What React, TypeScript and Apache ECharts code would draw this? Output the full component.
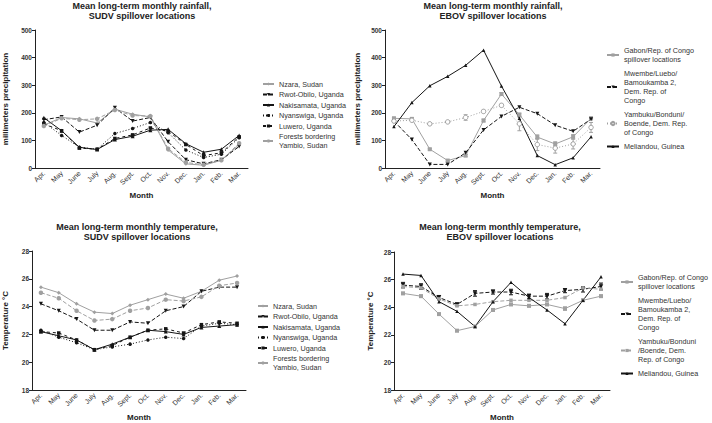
import React, { useEffect, useRef } from 'react';
import * as echarts from 'echarts';

const months = ['Apr.', 'May', 'June', 'July', 'Aug.', 'Sept.', 'Oct.', 'Nov.', 'Dec.', 'Jan.', 'Feb.', 'Mar.'];

// SUDV rainfall (mm)
const nzaraRain = [155, 183, 178, 163, 213, 195, 185, 65, 15, 10, 28, 85];
const rwotRain = [175, 185, 130, 155, 218, 170, 183, 95, 30, 15, 30, 78];
const nakisamataRain = [182, 135, 75, 67, 103, 115, 137, 140, 88, 57, 68, 118];
const nyanswigaRain = [165, 118, 75, 68, 125, 143, 165, 128, 65, 38, 50, 110];
const luweroRain = [160, 135, 72, 68, 107, 120, 145, 133, 85, 45, 55, 113];
const yambioRain = [152, 180, 175, 178, 210, 190, 188, 70, 20, 12, 28, 90];

// EBOV rainfall (mm)
const gabonRain = [180, 178, 68, 27, 45, 172, 268, 193, 112, 87, 113, 180];
const gabonRainErr = [4, 4, 3, 3, 4, 5, 5, 6, 8, 8, 8, 5];
const mwembeRain = [170, 103, 13, 13, 55, 138, 187, 220, 197, 155, 133, 177];
const yambukuRain = [170, 173, 160, 167, 183, 205, 227, 160, 85, 72, 87, 147];
const yambukuRainErr = [4, 4, 4, 4, 10, 5, 5, 25, 22, 18, 18, 18];
const meliandouRain = [150, 237, 298, 332, 372, 427, 297, 180, 45, 12, 37, 113];

// SUDV temperature (°C)
const nzaraTemp = [25.4, 25.0, 24.2, 23.6, 23.5, 24.1, 24.5, 24.9, 24.6, 25.1, 25.9, 26.2];
const rwotTemp = [24.2, 23.7, 23.1, 22.3, 22.3, 22.9, 22.8, 23.7, 24.0, 25.1, 25.4, 25.4];
const nakisamataTemp = [22.2, 21.9, 21.6, 20.9, 21.3, 21.8, 22.3, 22.2, 22.0, 22.5, 22.6, 22.7];
const nyanswigaTemp = [22.3, 21.8, 21.4, 20.9, 21.1, 21.3, 21.6, 21.8, 21.7, 22.6, 22.8, 22.7];
const luweroTemp = [22.2, 22.1, 21.6, 20.9, 21.2, 21.8, 22.3, 22.4, 22.1, 22.7, 22.9, 22.8];
const yambioTemp = [25.0, 24.6, 23.7, 23.0, 23.1, 23.7, 23.9, 24.5, 24.4, 24.7, 25.5, 25.7];

// EBOV temperature (°C)
const gabonTemp = [25.0, 24.8, 23.5, 22.3, 22.6, 23.8, 24.2, 24.1, 24.2, 23.9, 24.5, 24.8];
const gabonTempErr = [0.08, 0.08, 0.06, 0.08, 0.06, 0.08, 0.08, 0.08, 0.08, 0.12, 0.08, 0.08];
const mwembeTemp = [25.6, 25.5, 24.7, 24.2, 25.0, 25.1, 25.1, 24.8, 24.8, 25.2, 25.3, 25.5];
const mwembeTempErr = [0.2, 0.2, 0.15, 0.1, 0.2, 0.15, 0.2, 0.15, 0.2, 0.15, 0.2, 0.25];
const yambukuTemp = [25.5, 25.4, 24.6, 24.1, 24.2, 24.4, 24.5, 24.5, 24.5, 24.7, 25.4, 25.3];
const meliandouTemp = [26.4, 26.3, 24.4, 23.7, 22.6, 24.4, 25.8, 24.7, 23.8, 22.8, 24.5, 26.2];

const rainTicks = [0, 100, 200, 300, 400, 500];
const tempTicks = [18, 20, 22, 24, 26, 28];

const N_NZARA = 'Nzara, Sudan';
const N_RWOT = 'Rwot-Obilo, Uganda';
const N_NAKI = 'Nakisamata, Uganda';
const N_NYAN = 'Nyanswiga, Uganda';
const N_LUW = 'Luwero, Uganda';
const N_YAMBIO = 'Forests bordering\nYambio, Sudan';
const N_GABON = 'Gabon/Rep. of Congo\nspillover locations';
const N_MWEMBE = 'Mwembe/Luebo/\nBamoukamba 2,\nDem. Rep. of\nCongo';
const N_YAMBUKU_R = 'Yambuku/Bonduni/\nBoende, Dem. Rep.\nof Congo';
const N_YAMBUKU_T = 'Yambuku/Bonduni\n/Boende, Dem.\nRep. of Congo';
const N_MELI = 'Meliandou, Guinea';

const GRAY = '#a0a0a0';
const BLACK = '#151515';
const FONT = 'Liberation Sans, Arial, sans-serif';

function ln(name: string, data: number[], idx: number, color: string, dash: any, symbol: string, opts: any = {}) {
  return {
    type: 'line',
    name,
    data,
    xAxisIndex: idx,
    yAxisIndex: idx,
    symbol,
    symbolSize: opts.size ?? 4,
    symbolRotate: opts.rotate ?? 0,
    lineStyle: { color, width: 1, type: dash },
    itemStyle: { color: opts.fill ?? color, borderColor: color, borderWidth: opts.fill ? 1 : 0 },
    z: opts.z ?? 3,
  };
}

function errBars(data: number[], err: number[], idx: number, color: string) {
  return {
    type: 'custom',
    xAxisIndex: idx,
    yAxisIndex: idx,
    z: 2,
    silent: true,
    data: data.map((v, i) => [i, v, err[i]]),
    renderItem: (params: any, api: any) => {
      const x = api.value(0);
      const v = api.value(1);
      const e = api.value(2);
      const hi = api.coord([x, v + e]);
      const lo = api.coord([x, v - e]);
      const w = 2;
      const st = { stroke: color, lineWidth: 1 };
      return {
        type: 'group',
        children: [
          { type: 'line', shape: { x1: hi[0], y1: hi[1], x2: lo[0], y2: lo[1] }, style: st },
          { type: 'line', shape: { x1: hi[0] - w, y1: hi[1], x2: hi[0] + w, y2: hi[1] }, style: st },
          { type: 'line', shape: { x1: lo[0] - w, y1: lo[1], x2: lo[0] + w, y2: lo[1] }, style: st },
        ],
      };
    },
  };
}

const DASH = [4, 2];
const DOT = [1, 2];

export default function App() {
  const ref = useRef<HTMLDivElement>(null);
  useEffect(() => {
    if (!ref.current) return;
    const chart = echarts.init(ref.current, undefined, { renderer: 'svg' });

    const grids = [
      { left: 35, top: 30, width: 213, height: 138 },
      { left: 385, top: 30, width: 215, height: 138 },
      { left: 30, top: 251, width: 216, height: 139 },
      { left: 394, top: 252, width: 216, height: 138 },
    ];

    const xAxis = grids.map((_, i) => ({
      type: 'category',
      gridIndex: i,
      data: months,
      boundaryGap: true,
      name: 'Month',
      nameLocation: 'middle',
      nameGap: 23,
      nameTextStyle: { fontSize: 8, fontWeight: 'bold', color: '#222', fontFamily: FONT },
      axisLine: { lineStyle: { color: '#222', width: 1 } },
      axisTick: { alignWithLabel: true, length: 3, lineStyle: { color: '#222' } },
      axisLabel: { rotate: 45, fontSize: 7, color: '#333', margin: 4, interval: 0, fontFamily: FONT },
      splitLine: { show: false },
    }));

    const yAxis = grids.map((_, i) => {
      const rain = i < 2;
      const ticks = rain ? rainTicks : tempTicks;
      return {
        type: 'value',
        gridIndex: i,
        min: ticks[0],
        max: ticks[ticks.length - 1],
        interval: ticks[1] - ticks[0],
        name: rain ? 'millimeters precipitation' : 'Temperature °C',
        nameLocation: 'middle',
        nameGap: [26, 24, 23, 20][i],
        nameTextStyle: { fontSize: 8, fontWeight: 'bold', color: '#222', fontFamily: FONT },
        axisLine: { show: true, lineStyle: { color: '#222', width: 1 } },
        axisTick: { show: true, length: 3, lineStyle: { color: '#222' } },
        axisLabel: { fontSize: 6.5, fontWeight: 'bold', color: '#333', margin: 3, fontFamily: FONT },
        splitLine: { show: false },
      };
    });

    const titleStyle = { fontSize: 9, fontWeight: 'bold', color: '#222', lineHeight: 10, fontFamily: FONT };
    const title = [
      { text: 'Mean long-term monthly rainfall,\nSUDV spillover locations', left: 142, top: 1, padding: 0, textAlign: 'center', textStyle: titleStyle },
      { text: 'Mean long-term monthly rainfall,\nEBOV spillover locations', left: 493, top: 1, padding: 0, textAlign: 'center', textStyle: titleStyle },
      { text: 'Mean long-term monthly temperature,\nSUDV spillover locations', left: 137, top: 222, padding: 0, textAlign: 'center', textStyle: titleStyle },
      { text: 'Mean long-term monthly temperature,\nEBOV spillover locations', left: 500, top: 222, padding: 0, textAlign: 'center', textStyle: titleStyle },
    ];

    const legText = { fontSize: 7.2, lineHeight: 9, color: '#333', fontFamily: FONT };
    const legBase = { orient: 'vertical', padding: 0, itemHeight: 4, textStyle: legText, selectedMode: false };
    const legend = [
      { ...legBase, data: [N_NZARA, N_RWOT, N_NAKI, N_NYAN, N_LUW, N_YAMBIO], left: 262, top: 79.5, itemWidth: 11, itemGap: 1.5 },
      { ...legBase, data: [N_GABON, N_MWEMBE, N_YAMBUKU_R, N_MELI], left: 606, top: 46, itemWidth: 12, itemGap: 5 },
      { ...legBase, data: [N_NZARA, N_RWOT, N_NAKI, N_NYAN, N_LUW, N_YAMBIO], left: 257, top: 301.5, itemWidth: 10, itemGap: 1.5 },
      { ...legBase, data: [N_GABON, N_MWEMBE, N_YAMBUKU_T, N_MELI], left: 620, top: 273, itemWidth: 12, itemGap: 5 },
    ];

    const series: any[] = [
      // SUDV rainfall
      ln(N_NZARA, nzaraRain, 0, GRAY, 'solid', 'diamond'),
      ln(N_RWOT, rwotRain, 0, BLACK, DASH, 'triangle', { rotate: 180 }),
      ln(N_NAKI, nakisamataRain, 0, BLACK, 'solid', 'triangle'),
      ln(N_NYAN, nyanswigaRain, 0, BLACK, DOT, 'circle', { size: 3.5 }),
      ln(N_LUW, luweroRain, 0, BLACK, [3, 3], 'rect', { size: 3.5 }),
      ln(N_YAMBIO, yambioRain, 0, GRAY, DASH, 'circle', { size: 4.5 }),
      // EBOV rainfall
      ln(N_GABON, gabonRain, 1, GRAY, 'solid', 'rect', { size: 4 }),
      errBars(gabonRain, gabonRainErr, 1, GRAY),
      ln(N_MWEMBE, mwembeRain, 1, BLACK, DASH, 'triangle', { rotate: 180 }),
      ln(N_YAMBUKU_R, yambukuRain, 1, GRAY, DOT, 'circle', { size: 4.5, fill: '#ffffff' }),
      errBars(yambukuRain, yambukuRainErr, 1, GRAY),
      ln(N_MELI, meliandouRain, 1, BLACK, 'solid', 'triangle', { size: 3.5 }),
      // SUDV temperature
      ln(N_NZARA, nzaraTemp, 2, GRAY, 'solid', 'diamond'),
      ln(N_RWOT, rwotTemp, 2, BLACK, DASH, 'triangle', { rotate: 180 }),
      ln(N_NAKI, nakisamataTemp, 2, BLACK, 'solid', 'triangle'),
      ln(N_NYAN, nyanswigaTemp, 2, BLACK, DOT, 'circle', { size: 3.5 }),
      ln(N_LUW, luweroTemp, 2, BLACK, [3, 3], 'rect', { size: 3.5 }),
      ln(N_YAMBIO, yambioTemp, 2, GRAY, DASH, 'circle', { size: 4.5 }),
      // EBOV temperature
      ln(N_GABON, gabonTemp, 3, GRAY, 'solid', 'rect', { size: 4 }),
      errBars(gabonTemp, gabonTempErr, 3, GRAY),
      ln(N_MWEMBE, mwembeTemp, 3, BLACK, DASH, 'triangle', { rotate: 180, size: 4.5 }),
      errBars(mwembeTemp, mwembeTempErr, 3, BLACK),
      ln(N_YAMBUKU_T, yambukuTemp, 3, GRAY, DASH, 'rect', { size: 3.5 }),
      ln(N_MELI, meliandouTemp, 3, BLACK, 'solid', 'triangle', { size: 3.5 }),
    ];

    chart.setOption({
      animation: false,
      backgroundColor: '#ffffff',
      textStyle: { fontFamily: FONT },
      title,
      legend,
      grid: grids,
      xAxis,
      yAxis,
      series,
    });
    return () => chart.dispose();
  }, []);
  return <div ref={ref} style={{ position: 'fixed', left: 0, top: 0, width: 712, height: 423 }} />;
}
